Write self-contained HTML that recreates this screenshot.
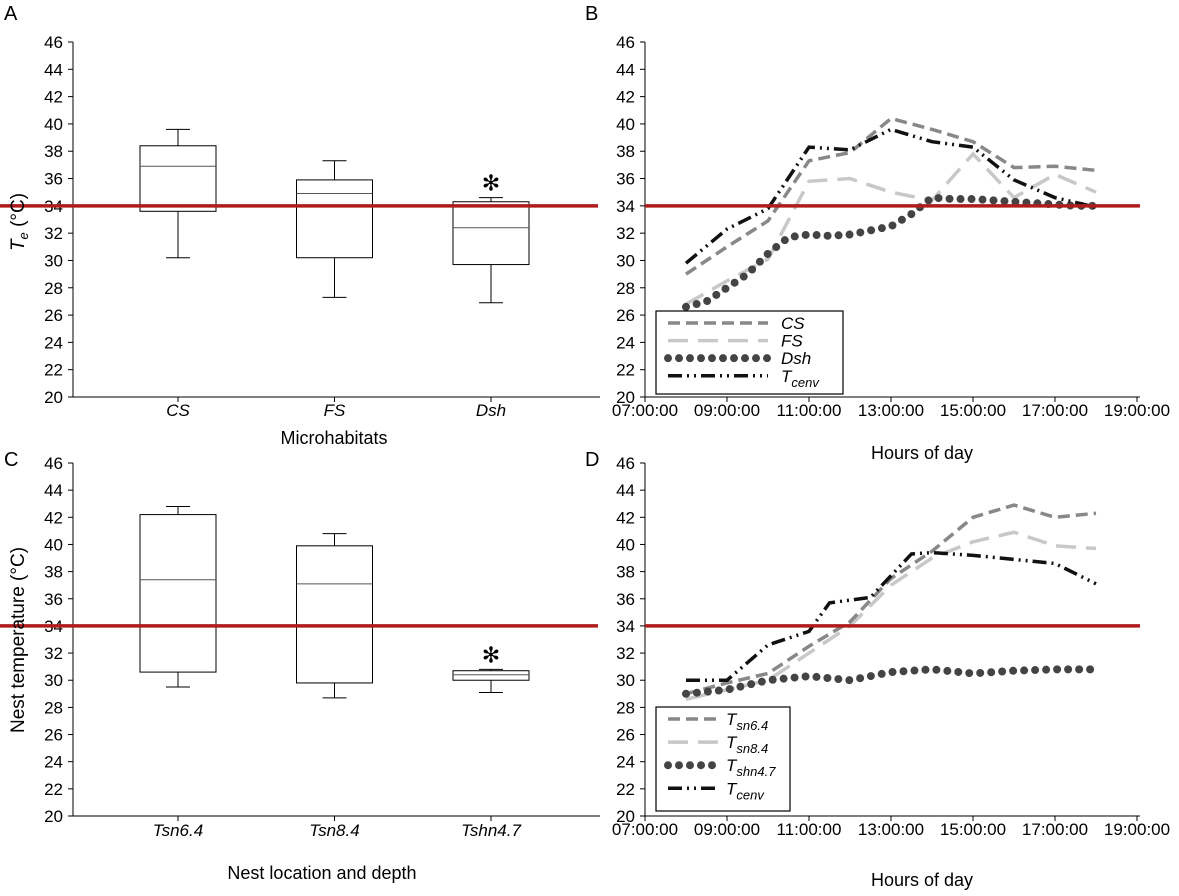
<!DOCTYPE html>
<html><head><meta charset="utf-8"><style>
body{margin:0;background:#fff}
svg text{font-family:"Liberation Sans",Arial,sans-serif;fill:#000}
</style></head><body>
<svg id="fig" width="1179" height="891" viewBox="0 0 1179 891"></svg>
<script>
const yTicks=[20,22,24,26,28,30,32,34,36,38,40,42,44,46];
const xTimeTicks=["07:00:00","09:00:00","11:00:00","13:00:00","15:00:00","17:00:00","19:00:00"];
const threshold=34;
const catsA=["CS","FS","Dsh"];
const boxA=[[30.2,33.6,36.9,38.4,39.6],[27.3,30.2,34.9,35.9,37.3],[26.9,29.7,32.4,34.3,34.6]];
const starA=[false,false,true];
const catsC=["Tsn6.4","Tsn8.4","Tshn4.7"];
const boxC=[[29.5,30.6,37.4,42.2,42.8],[28.7,29.8,37.1,39.9,40.8],[29.1,30.0,30.4,30.7,30.8]];
const starC=[false,false,true];
const hoursB=[8,9,10,11,12,13,14,15,16,17,18];
const csB=[29.0,31.0,32.9,37.3,37.9,40.4,39.6,38.7,36.8,36.9,36.6];
const fsB=[26.8,28.5,30.1,35.8,36.0,35.0,34.4,37.8,34.6,36.3,35.0];
const tcB=[29.8,32.3,33.8,38.3,38.1,39.6,38.7,38.3,35.9,34.6,33.9];
const hoursDsh=[8,8.5,9,9.5,10,10.5,11,11.5,12,12.5,13,13.5,14,14.5,15,15.5,16,16.5,17,17.5,18];
const dshB=[26.6,27,28,29,30.5,31.7,31.9,31.8,31.9,32.2,32.5,33.4,34.6,34.5,34.5,34.4,34.3,34.2,34.1,34.0,34.0];
const hoursD=[8,9,10,11,12,13,14,15,16,17,18];
const sn64=[29.0,29.8,30.5,32.5,34.3,37.5,39.5,42.0,42.9,42.0,42.3];
const sn84=[28.6,29.3,30.0,32.0,34.0,37.0,39.0,40.2,40.9,39.9,39.7];
const shn47=[29.0,29.3,30.0,30.3,30.0,30.6,30.8,30.5,30.7,30.8,30.8];
const hoursTcD=[8,9,10,11,11.5,12.5,13.5,14,15,16,17,18];
const tcD=[30.0,30.0,32.6,33.6,35.7,36.1,39.3,39.4,39.2,38.9,38.6,37.1];

const S=document.getElementById('fig');const NS="http://www.w3.org/2000/svg";
function el(t,a,p){const e=document.createElementNS(NS,t);for(const k in a)e.setAttribute(k,a[k]);(p||S).appendChild(e);return e;}
function txt(x,y,s,a,p){const e=el('text',Object.assign({x:x,y:y,'font-size':17},a||{}),p);e.textContent=s;return e;}
function yScale(top,bot){return v=>bot-(v-20)/26*(bot-top);}
function tScale(x0){return h=>x0+(h-7)*41;}

function panel(id,ax,top,bot,right){
  const g=el('g',{});
  
  
  const y=yScale(top,bot);
  const a=el('line',{x1:ax,y1:top,x2:ax,y2:bot,stroke:'#000','stroke-width':1},g);
  
  yTicks.forEach(v=>{el('line',{x1:ax-5,y1:y(v),x2:ax,y2:y(v),stroke:'#000'},g);
    const t=txt(ax-10,y(v)+6,String(v),{'text-anchor':'end'},g);
    });
  const xa=el('line',{x1:ax,y1:bot,x2:right,y2:bot,stroke:'#000'},g);
  
  return {g,y};
}
function redLine(g,x1,x2,y){const r=el('line',{x1:x1,y1:y(threshold),x2:x2,y2:y(threshold),stroke:'#b01c1c','stroke-width':3.5},g);
  }
function boxes(g,y,cats,data,stars,bot,labY){
  cats.forEach((c,i)=>{const cx=178+i*156.5,w=38;const d=data[i];
    const b=el('g',{},g);
    el('line',{x1:cx,y1:y(d[0]),x2:cx,y2:y(d[1]),stroke:'#000'},b);
    el('line',{x1:cx,y1:y(d[3]),x2:cx,y2:y(d[4]),stroke:'#000'},b);
    el('line',{x1:cx-12,y1:y(d[0]),x2:cx+12,y2:y(d[0]),stroke:'#000'},b);
    el('line',{x1:cx-12,y1:y(d[4]),x2:cx+12,y2:y(d[4]),stroke:'#000'},b);
    el('rect',{x:cx-w,y:y(d[3]),width:2*w,height:y(d[1])-y(d[3]),fill:'none',stroke:'#000'},b);
    el('line',{x1:cx-w,y1:y(d[2]),x2:cx+w,y2:y(d[2]),stroke:'#555'},b);
    el('line',{x1:cx,y1:bot,x2:cx,y2:bot+5,stroke:'#000'},g);
    const t=txt(cx,labY,c,{'text-anchor':'middle','font-style':'italic'},g);
    
    if(stars[i]){const s=txt(cx,y(d[4])-7,'✻',{'text-anchor':'middle','font-size':22},g);
      }
  });
}
function series(g,xs,ys,x,y,style,name){
  const p=el('polyline',Object.assign({points:xs.map((h,i)=>x(h)+','+y(ys[i])).join(' '),fill:'none'},style),g);
  
}
function timeAxis(g,x,bot,labY){xTimeTicks.forEach((s,i)=>{const xx=x(7+2*i);
  el('line',{x1:xx,y1:bot,x2:xx,y2:bot+5,stroke:'#000'},g);
  const t=txt(xx,labY,s,{'text-anchor':'middle'},g);});}
const stCS={stroke:'#888','stroke-width':3.5,'stroke-dasharray':'12 6'};
const stFS={stroke:'#c8c8c8','stroke-width':3.5,'stroke-dasharray':'20 10'};
const stDot={stroke:'#444','stroke-width':8,'stroke-linecap':'round','stroke-dasharray':'0 11'};
const stTc={stroke:'#111','stroke-width':3.5,'stroke-dasharray':'14 5 2 5 2 5'};
function legend(g,x0,y0,w,h,len,tx,items){
  const lg=el('g',{},g);
  el('rect',{x:x0,y:y0,width:w,height:h,fill:'#fff',stroke:'#000','stroke-width':1.2},lg);
  items.forEach((it,i)=>{const yy=y0+12+i*(h-16)/items.length*1.05;
    const e=el('g',{},lg);
    el('line',Object.assign({x1:x0+12,y1:yy,x2:x0+12+len,y2:yy},it.st),e);
    const t=txt(x0+tx,yy+6,'',{'font-style':'italic'},e);
    const a=document.createElementNS(NS,'tspan');a.textContent=it.main;t.appendChild(a);
    if(it.sub){const b=document.createElementNS(NS,'tspan');b.setAttribute('font-size','13');b.setAttribute('dy','5');b.textContent=it.sub;t.appendChild(b);}
  });
}
// Panel A
let P=panel('a',73,42,397,600);boxes(P.g,P.y,catsA,boxA,starA,397,416);redLine(P.g,0,598,P.y);
txt(4,20,'A',{'font-size':20});
let yl=txt(0,0,'',{'transform':'translate(24,222) rotate(-90)','text-anchor':'middle','font-size':19});
yl.innerHTML='<tspan font-style="italic">T</tspan><tspan font-style="italic" font-size="13" dy="4">e</tspan><tspan dy="-4"> (°C)</tspan>';

let xt=txt(334,444,'Microhabitats',{'text-anchor':'middle','font-size':18});
// Panel B
let x=tScale(645);P=panel('b',645,42,397,1140);timeAxis(P.g,x,397,416);
series(P.g,hoursB,fsB,x,P.y,stFS,'line-fs');series(P.g,hoursB,csB,x,P.y,stCS,'line-cs');
series(P.g,hoursDsh,dshB,x,P.y,stDot,'line-dsh');series(P.g,hoursB,tcB,x,P.y,stTc,'line-tcenv');
redLine(P.g,645,1140,P.y);
legend(P.g,656,311,187,83,100,125,[{st:stCS,main:'CS'},{st:stFS,main:'FS'},{st:stDot,main:'Dsh'},{st:stTc,main:'T',sub:'cenv'}]);
txt(585,20,'B',{'font-size':20});
xt=txt(922,459,'Hours of day',{'text-anchor':'middle','font-size':18});
// Panel C
P=panel('c',73,463,816,600);boxes(P.g,P.y,catsC,boxC,starC,816,836);redLine(P.g,0,598,P.y);
txt(4,466,'C',{'font-size':20});
yl=txt(0,0,'Nest temperature (°C)',{'transform':'translate(24,640) rotate(-90)','text-anchor':'middle','font-size':19});

xt=txt(322,879,'Nest location and depth',{'text-anchor':'middle','font-size':18});
// Panel D
P=panel('d',645,463,816,1140);timeAxis(P.g,x,816,835);
series(P.g,hoursD,sn84,x,P.y,stFS,'line-tsn8.4');series(P.g,hoursD,sn64,x,P.y,stCS,'line-tsn6.4');
series(P.g,hoursD,shn47,x,P.y,stDot,'line-tshn4.7');series(P.g,hoursTcD,tcD,x,P.y,stTc,'line-tcenv');
redLine(P.g,645,1140,P.y);
legend(P.g,656,707,134,104,50,70,[{st:stCS,main:'T',sub:'sn6.4'},{st:stFS,main:'T',sub:'sn8.4'},{st:stDot,main:'T',sub:'shn4.7'},{st:stTc,main:'T',sub:'cenv'}]);
txt(585,466,'D',{'font-size':20});
xt=txt(922,886,'Hours of day',{'text-anchor':'middle','font-size':18});
</script>
</body></html>
